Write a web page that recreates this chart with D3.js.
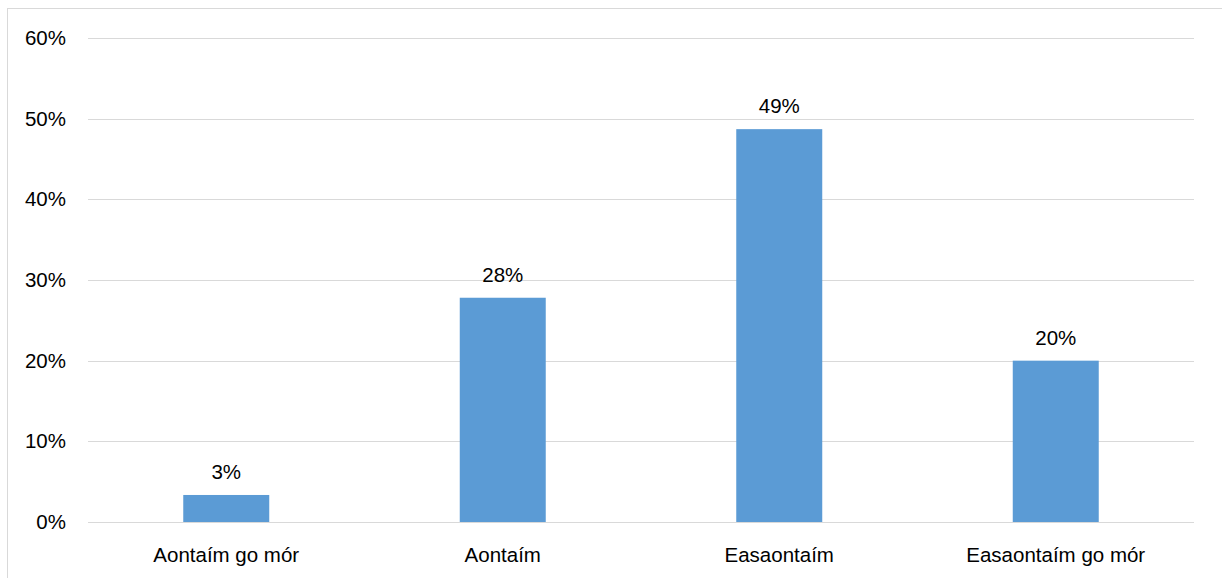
<!DOCTYPE html>
<html><head><meta charset="utf-8">
<script src="https://cdn.jsdelivr.net/npm/d3@7"></script>
<style>body{margin:0;background:#fff;}svg{display:block;font-family:"Liberation Sans",Arial,sans-serif;}</style>
</head><body>
<svg id="c" width="1222" height="578"></svg>
<script>
const categories = ["Aontaím go mór", "Aontaím", "Easaontaím", "Easaontaím go mór"];
const values = [0.0335, 0.278, 0.487, 0.200];
const valueLabels = ["3%", "28%", "49%", "20%"];
const yTicks = [0, 0.1, 0.2, 0.3, 0.4, 0.5, 0.6];

const svg = d3.select("#c");
const m = {left: 88, right: 1194, top: 38, bottom: 522};
const fs = 20.5;

svg.append("rect").attr("x", 7.5).attr("y", 8.5).attr("width", 1230).attr("height", 600)
  .attr("fill", "#fff").attr("stroke", "#d9d9d9").attr("stroke-width", 1);

const x = d3.scaleBand().domain(categories).range([m.left, m.right]).padding(0);
const y = d3.scaleLinear().domain([0, 0.6]).range([m.bottom, m.top]);

const grid = svg.append("g");
grid.selectAll("line").data(yTicks).join("line")
  .attr("x1", m.left).attr("x2", m.right)
  .attr("y1", d => Math.round(y(d)) + 0.5).attr("y2", d => Math.round(y(d)) + 0.5)
  .attr("stroke", "#d9d9d9").attr("stroke-width", 1);

const yAxis = d3.axisLeft(y).tickValues(yTicks).tickFormat(d3.format(".0%")).tickSize(0).tickPadding(0);
const ya = svg.append("g").attr("transform", "translate(66,0)").call(yAxis);
ya.select(".domain").remove();
ya.selectAll("text").attr("font-size", fs).attr("fill", "#000").attr("font-family", "inherit");

const barW = x.bandwidth() * 0.311;
svg.append("g").selectAll("rect").data(values).join("rect")
  .attr("x", (d, i) => x(categories[i]) + x.bandwidth() / 2 - barW / 2)
  .attr("width", barW)
  .attr("y", d => y(d))
  .attr("height", d => y(0) - y(d))
  .attr("fill", "#5b9bd5");

svg.append("g").selectAll("text").data(values).join("text")
  .attr("x", (d, i) => x(categories[i]) + x.bandwidth() / 2)
  .attr("y", d => y(d) - 16)
  .attr("text-anchor", "middle").attr("font-size", fs).attr("fill", "#000")
  .text((d, i) => valueLabels[i]);

const xAxis = d3.axisBottom(x).tickSize(0).tickPadding(0);
const xa = svg.append("g").attr("transform", "translate(0,547)").call(xAxis);
xa.select(".domain").remove();
xa.selectAll("text").attr("font-size", fs).attr("fill", "#000").attr("font-family", "inherit").attr("dy", "0.71em");
</script>
</body></html>
